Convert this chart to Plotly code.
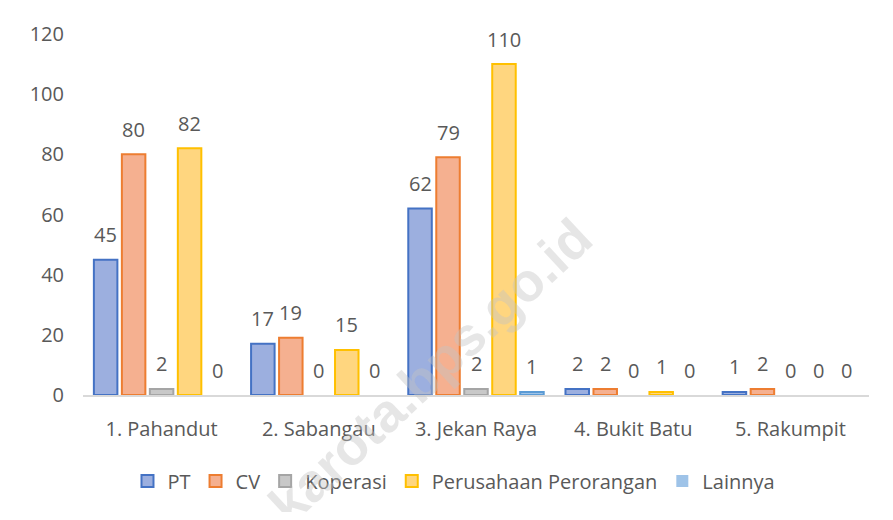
import plotly.graph_objects as go

categories = ["1. Pahandut", "2. Sabangau", "3. Jekan Raya", "4. Bukit Batu", "5. Rakumpit"]
series_names = ["PT", "CV", "Koperasi", "Perusahaan Perorangan", "Lainnya"]
pt = [45, 17, 62, 2, 1]
cv = [80, 19, 79, 2, 2]
koperasi = [2, 0, 2, 0, 0]
perorangan = [82, 15, 110, 1, 0]
lainnya = [0, 0, 1, 0, 0]
values = [pt, cv, koperasi, perorangan, lainnya]
fills = ["#9cafdf", "#f5b090", "#c8c8c8", "#ffd67f", "#9ec3e8"]
lines = ["#4472c4", "#ed7d31", "#a5a5a5", "#ffc000", "#5b9bd5"]
y_ticks = [0, 20, 40, 60, 80, 100, 120]

# page body has an 8px margin, so the figure is sized/offset to compensate
W, H = 877, 504
ml, mt, pw, ph = 75, 23, 786, 367
mr = W - ml - pw
mb = H - mt - ph
BARGAP = 0.11
FONT = "Open Sans, Liberation Sans, sans-serif"
GREY = "#595959"

fig = go.Figure()
for name, vals, fc, lc in zip(series_names, values, fills, lines):
    fig.add_trace(go.Bar(
        name=name, x=categories, y=vals,
        marker=dict(color=fc, line=dict(color=lc, width=[0 if v == 0 else 2 for v in vals])),
        hoverinfo="x+y+name",
    ))

# data labels above each bar
cat_px = pw / len(categories)
slot = cat_px * (1 - BARGAP) / len(series_names)
for i, vals in enumerate(values):
    xs = (i - (len(series_names) - 1) / 2) * slot
    for c, v in zip(categories, vals):
        fig.add_annotation(x=c, y=v, xref="x", yref="y", text=str(v), showarrow=False,
                           xshift=xs, yshift=25, yanchor="middle",
                           font=dict(size=20, color=GREY, family=FONT))

# watermark
wx, wy = 422, 366
fig.add_annotation(
    text="<b>karota.bps.go.id</b>", xref="paper", yref="paper",
    x=(wx - ml) / pw, y=(H - mb - wy) / ph, showarrow=False,
    textangle=-43, font=dict(size=54, color="rgba(195,195,195,0.42)", family="Liberation Sans"),
    xanchor="center", yanchor="middle",
)

fig.update_layout(
    width=W, height=H,
    margin=dict(l=ml, r=mr, t=mt, b=mb),
    paper_bgcolor="white", plot_bgcolor="white",
    barmode="group", bargap=BARGAP, bargroupgap=0.16,
    font=dict(family=FONT, color=GREY),
    showlegend=True,
    legend=dict(orientation="h", x=0.472, xanchor="center", y=-0.238, yanchor="middle",
                font=dict(size=20, color=GREY), itemwidth=30, traceorder="normal"),
    xaxis=dict(showgrid=False, showline=True, linecolor="#d9d9d9", linewidth=1.5,
               ticks="", ticklabelstandoff=15, tickfont=dict(size=20, color=GREY)),
    yaxis=dict(range=[0, 120], tickvals=y_ticks, showgrid=False, zeroline=False,
               showline=False, ticks="", ticklabelstandoff=18,
               tickfont=dict(size=20, color=GREY)),
)

fig.write_html("out.html")
